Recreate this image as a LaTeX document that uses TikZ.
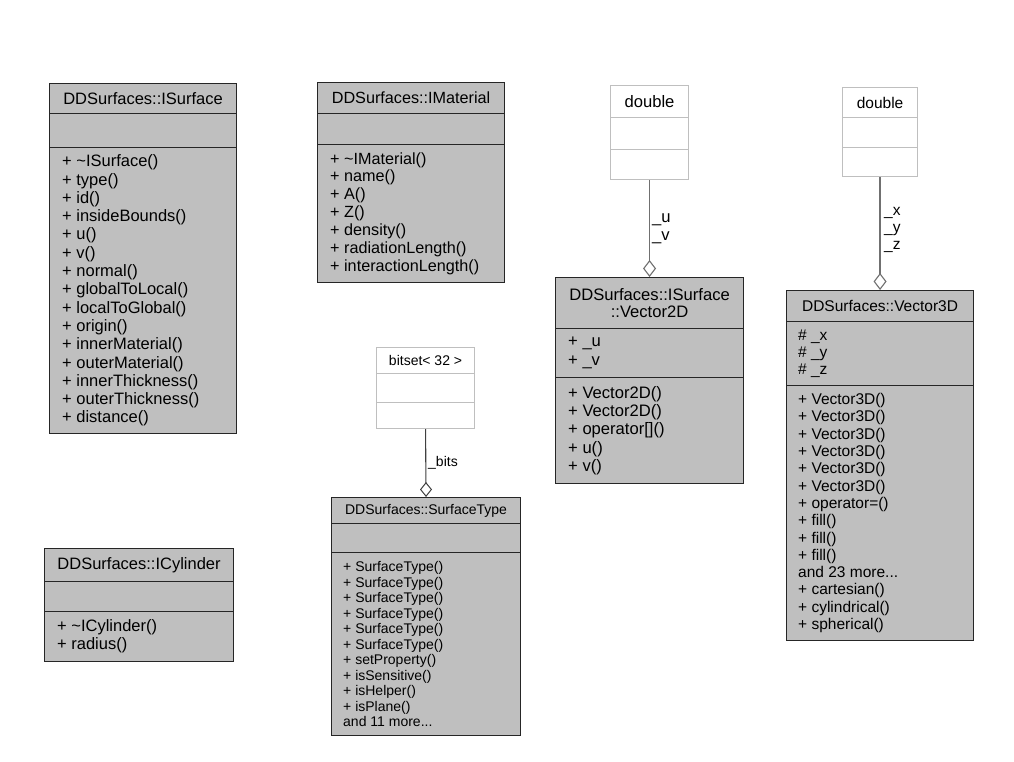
\documentclass[tikz,border=0pt]{standalone}
\usepackage{fontspec}
\setmainfont{Liberation Sans}
\usetikzlibrary{arrows.meta,calc}
\definecolor{clsgray}{HTML}{BFBFBF}
\definecolor{extgray}{HTML}{BFBFBF}
\definecolor{edgeA}{HTML}{707070}
\definecolor{edgeB}{HTML}{404040}
\begin{document}
\begin{tikzpicture}[x=1pt,y=-1pt,
  cls/.style={draw=black!85, fill=clsgray, line width=1.1pt, inner sep=0pt, anchor=north west},
  ext/.style={draw=extgray, fill=white, line width=1.1pt, inner sep=0pt, anchor=north west},
  txt/.style={inner sep=0pt, anchor=west, align=left, text=black},
  lbl/.style={inner sep=0pt, anchor=west, align=left, text=black},
  agg/.style={line width=1.2pt, -{Diamond[open, length=17pt, width=13pt, line width=1.1pt]}},
  aggs/.style={line width=1.1pt, -{Diamond[open, length=15pt, width=12pt, line width=1.0pt]}},
  fA/.style={font=\fontsize{16.5}{18.3}\selectfont},
  fB/.style={font=\fontsize{16.2}{17.9}\selectfont},
  fC/.style={font=\fontsize{16.6}{18.4}\selectfont},
  fD/.style={font=\fontsize{15.5}{17.3}\selectfont},
  fE/.style={font=\fontsize{14}{15.5}\selectfont}]
\useasboundingbox[fill=white] (0,0) rectangle (1014,761);

% ---------- DDSurfaces::ISurface ----------
\node[cls, fA, minimum width=187pt, minimum height=30pt] (isurf) at (49,83) {DDSurfaces::ISurface};
\node[cls, minimum width=187pt, minimum height=34pt] (isurfA) at (49,113) {};
\node[cls, minimum width=187pt, minimum height=286pt] (isurfM) at (49,147) {};
\node[txt, fA] (isurfMt) at ($(isurfM.west)+(13,0)$) {+ \textasciitilde ISurface()\\+ type()\\+ id()\\+ insideBounds()\\+ u()\\+ v()\\+ normal()\\+ globalToLocal()\\+ localToGlobal()\\+ origin()\\+ innerMaterial()\\+ outerMaterial()\\+ innerThickness()\\+ outerThickness()\\+ distance()};

% ---------- DDSurfaces::ICylinder ----------
\node[cls, fA, minimum width=189pt, minimum height=33pt] (icyl) at (44,548) {DDSurfaces::ICylinder};
\node[cls, minimum width=189pt, minimum height=30pt] (icylA) at (44,581) {};
\node[cls, minimum width=189pt, minimum height=50pt] (icylM) at (44,611) {};
\node[txt, fA] (icylMt) at ($(icylM.west)+(13,0)$) {+ \textasciitilde ICylinder()\\+ radius()};

% ---------- DDSurfaces::IMaterial ----------
\node[cls, fB, minimum width=187pt, minimum height=31pt] (imat) at (317,82) {DDSurfaces::IMaterial};
\node[cls, minimum width=187pt, minimum height=31pt] (imatA) at (317,113) {};
\node[cls, minimum width=187pt, minimum height=138pt] (imatM) at (317,144) {};
\node[txt, fB] (imatMt) at ($(imatM.west)+(13,0)$) {+ \textasciitilde IMaterial()\\+ name()\\+ A()\\+ Z()\\+ density()\\+ radiationLength()\\+ interactionLength()};

% ---------- double (for Vector2D) ----------
\node[ext, fC, minimum width=78pt, minimum height=32pt] (dblA) at (610,85) {double};
\node[ext, minimum width=78pt, minimum height=32pt] (dblAa) at (610,117) {};
\node[ext, minimum width=78pt, minimum height=30pt] (dblAm) at (610,149) {};

% ---------- DDSurfaces::ISurface::Vector2D ----------
\node[cls, fC, align=center, minimum width=188pt, minimum height=51pt, font=\fontsize{16.6}{17.5}\selectfont] (v2d) at (555,277) {DDSurfaces::ISurface\\::Vector2D};
\node[cls, minimum width=188pt, minimum height=49pt] (v2dA) at (555,328) {};
\node[txt, fC] (v2dAt) at ($(v2dA.west)+(13,0)$) {+ \_u\\+ \_v};
\node[cls, minimum width=188pt, minimum height=106pt] (v2dM) at (555,377) {};
\node[txt, fC] (v2dMt) at ($(v2dM.west)+(13,0)$) {+ Vector2D()\\+ Vector2D()\\+ operator[]()\\+ u()\\+ v()};

\draw[agg, draw=edgeA] (dblAm.south) -- (v2d.north);
\node[lbl, fC] (uvlbl) at (652,229) {\_u\\\_v};

% ---------- double (for Vector3D) ----------
\node[ext, fD, minimum width=75pt, minimum height=30pt] (dblB) at (842,87) {double};
\node[ext, minimum width=75pt, minimum height=30pt] (dblBa) at (842,117) {};
\node[ext, minimum width=75pt, minimum height=29pt] (dblBm) at (842,147) {};

% ---------- DDSurfaces::Vector3D ----------
\node[cls, fD, minimum width=187pt, minimum height=31pt] (v3d) at (786,290) {DDSurfaces::Vector3D};
\node[cls, minimum width=187pt, minimum height=64pt] (v3dA) at (786,321) {};
\node[txt, fD] (v3dAt) at ($(v3dA.west)+(12,0)$) {\# \_x\\\# \_y\\\# \_z};
\node[cls, minimum width=187pt, minimum height=255pt] (v3dM) at (786,385) {};
\node[txt, fD] (v3dMt) at ($(v3dM.west)+(12,0)$) {+ Vector3D()\\+ Vector3D()\\+ Vector3D()\\+ Vector3D()\\+ Vector3D()\\+ Vector3D()\\+ operator=()\\+ fill()\\+ fill()\\+ fill()\\and 23 more...\\+ cartesian()\\+ cylindrical()\\+ spherical()};

\draw[agg, draw=edgeA] (dblBm.south) -- (v3d.north);
\node[lbl, fD] (xyzlbl) at (884,230) {\_x\\\_y\\\_z};

% ---------- bitset< 32 > ----------
\node[ext, fE, minimum width=98pt, minimum height=26pt] (bits) at (376,347) {bitset< 32 >};
\node[ext, minimum width=98pt, minimum height=29pt] (bitsA) at (376,373) {};
\node[ext, minimum width=98pt, minimum height=26pt] (bitsM) at (376,402) {};

% ---------- DDSurfaces::SurfaceType ----------
\node[cls, fE, minimum width=189pt, minimum height=26pt] (stype) at (331,497) {DDSurfaces::SurfaceType};
\node[cls, minimum width=189pt, minimum height=29pt] (stypeA) at (331,523) {};
\node[cls, minimum width=189pt, minimum height=183pt] (stypeM) at (331,552) {};
\node[txt, fE] (stypeMt) at ($(stypeM.west)+(12,0)$) {+ SurfaceType()\\+ SurfaceType()\\+ SurfaceType()\\+ SurfaceType()\\+ SurfaceType()\\+ SurfaceType()\\+ setProperty()\\+ isSensitive()\\+ isHelper()\\+ isPlane()\\and 11 more...};

\draw[aggs, draw=edgeB] (bitsM.south) -- (stype.north);
\node[lbl, fE] (bitslbl) at (428,463) {\_bits};

\end{tikzpicture}
\end{document}
